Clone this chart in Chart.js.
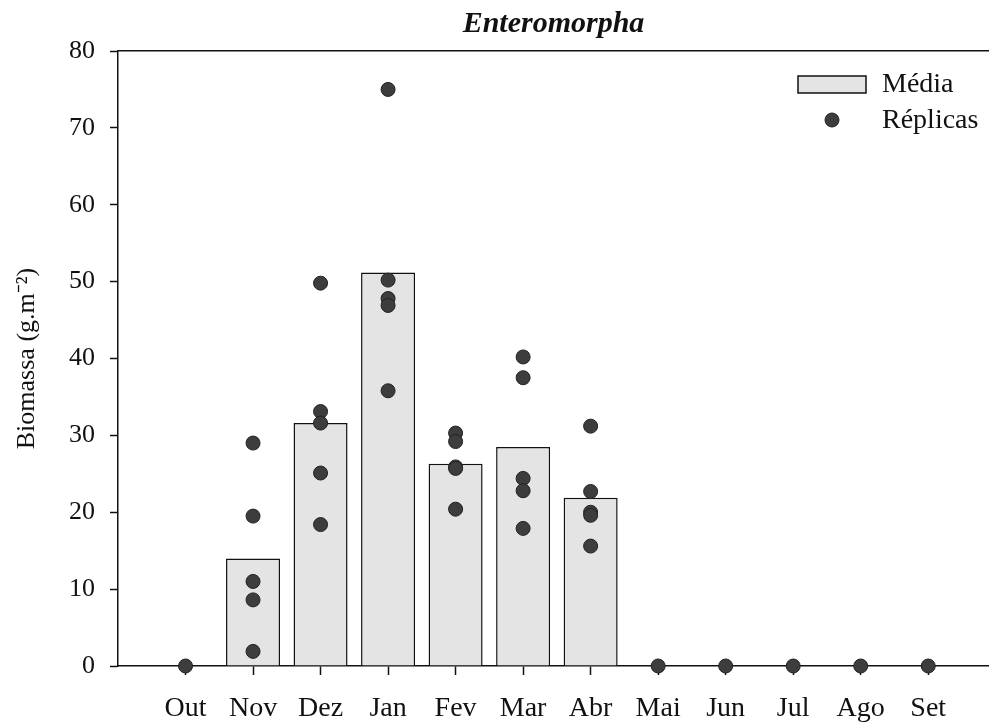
<!DOCTYPE html>
<html>
<head>
<meta charset="utf-8">
<script src="https://cdn.jsdelivr.net/npm/chart.js@4/dist/chart.umd.min.js"></script>
<style>
  html, body { margin: 0; padding: 0; background: #fff; overflow: hidden; }
  canvas { display: block; }
</style>
</head>
<body>
<canvas id="c" width="989" height="726"></canvas>
<script>
// Monthly biomass of Enteromorpha: mean per month plus the individual replicates
const months = ['Out', 'Nov', 'Dez', 'Jan', 'Fev', 'Mar', 'Abr', 'Mai', 'Jun', 'Jul', 'Ago', 'Set'];
const means = [null, 14.0, 31.6, 51.2, 26.3, 28.5, 21.9, null, null, null, null, null];
const repOut = [0];
const repNov = [29.0, 19.5, 11.0, 8.6, 1.9];
const repDez = [49.8, 33.1, 31.6, 25.1, 18.4];
const repJan = [75.0, 50.2, 47.8, 46.9, 35.8];
const repFev = [30.3, 29.2, 25.9, 25.7, 20.4];
const repMar = [40.2, 37.5, 24.4, 22.8, 17.9];
const repAbr = [31.2, 22.7, 20.0, 19.6, 15.6];
const repMai = [0];
const repJun = [0];
const repJul = [0];
const repAgo = [0];
const repSet = [0];
const replicates = [repOut, repNov, repDez, repJan, repFev, repMar, repAbr, repMai, repJun, repJul, repAgo, repSet];
const yTicks = [0, 10, 20, 30, 40, 50, 60, 70, 80];

const FONT = 'Liberation Serif, Times New Roman, serif';
Chart.defaults.font.family = FONT;
Chart.defaults.color = '#111';

const barData = [];
means.forEach((v, i) => { if (v !== null) barData.push({ x: i, y: v }); });
const repData = [];
replicates.forEach((arr, i) => arr.forEach(v => repData.push({ x: i, y: v })));

// Legend drawn inside the plot, top right
const insideLegend = {
  id: 'insideLegend',
  afterDraw(chart) {
    const ctx = chart.ctx;
    const bar = chart.data.datasets[1];
    const pts = chart.data.datasets[0];
    ctx.save();
    ctx.fillStyle = bar.backgroundColor;
    ctx.strokeStyle = bar.borderColor;
    ctx.lineWidth = 1.5;
    ctx.fillRect(798, 76, 68, 17);
    ctx.strokeRect(798, 76, 68, 17);
    ctx.beginPath();
    ctx.arc(832, 120, 7, 0, Math.PI * 2);
    ctx.fillStyle = pts.backgroundColor;
    ctx.fill();
    ctx.strokeStyle = pts.borderColor;
    ctx.lineWidth = 1;
    ctx.stroke();
    ctx.fillStyle = '#111';
    ctx.font = '28px ' + FONT;
    ctx.textBaseline = 'middle';
    ctx.textAlign = 'left';
    ctx.fillText(bar.label, 882, 85);
    ctx.fillText(pts.label, 882, 121);
    ctx.restore();
  }
};

// The month axis runs one step before Out and on to the right edge; no extra label padding
const X_MIN = -1;
const X_MAX = 11.9;
const noPad = (axis) => { axis.paddingLeft = 0; axis.paddingRight = 0; };

new Chart(document.getElementById('c'), {
  data: {
    datasets: [
      {
        type: 'scatter',
        label: 'Réplicas',
        data: repData,
        backgroundColor: '#3d3d3d',
        borderColor: '#222',
        borderWidth: 1,
        pointRadius: 7,
        pointHoverRadius: 7,
        clip: false,
        order: 0
      },
      {
        type: 'bar',
        label: 'Média',
        data: barData,
        backgroundColor: '#e4e4e4',
        borderColor: '#111',
        borderWidth: 1.5,
        categoryPercentage: 0.8,
        barPercentage: 1.0,
        order: 1
      }
    ]
  },
  options: {
    responsive: false,
    animation: false,
    layout: { padding: 0, autoPadding: false },
    plugins: {
      legend: { display: false },
      tooltip: { enabled: false },
      title: {
        display: true,
        text: 'Enteromorpha',
        fullSize: false,
        color: '#111',
        font: { family: FONT, size: 30, weight: 'bold', style: 'italic' },
        padding: { top: 6, bottom: 9 }
      }
    },
    scales: {
      x: {
        type: 'linear',
        position: 'bottom',
        min: X_MIN,
        max: X_MAX,
        offset: false,
        afterBuildTicks: (axis) => { axis.ticks = months.map((m, i) => ({ value: i })); },
        afterFit: (axis) => { axis.height = 60; noPad(axis); },
        ticks: {
          callback: (v) => months[v] ?? '',
          font: { size: 28 },
          color: '#111',
          padding: 17,
          maxRotation: 0,
          autoSkip: false
        },
        grid: { drawOnChartArea: false, offset: false, color: '#111', tickLength: 9, tickWidth: 1.5 },
        border: { display: true, color: '#111', width: 1.5 }
      },
      x2: {
        type: 'linear',
        position: 'top',
        min: X_MIN,
        max: X_MAX,
        offset: false,
        afterFit: (axis) => { axis.height = 0; noPad(axis); },
        ticks: { display: false },
        grid: { display: false, drawTicks: false },
        border: { display: true, color: '#111', width: 1.5 }
      },
      y: {
        type: 'linear',
        min: 0,
        max: 80,
        afterBuildTicks: (axis) => { axis.ticks = yTicks.map(v => ({ value: v })); },
        afterFit: (axis) => { axis.width = 118; },
        ticks: { font: { size: 26 }, color: '#111', padding: 15 },
        grid: { drawOnChartArea: false, color: '#111', tickLength: 8, tickWidth: 1.5 },
        border: { display: true, color: '#111', width: 1.5 },
        title: {
          display: true,
          text: 'Biomassa (g.m⁻²)',
          font: { size: 26 },
          color: '#111',
          padding: { top: 12, bottom: 0 }
        }
      }
    }
  },
  plugins: [insideLegend]
});
</script>
</body>
</html>
